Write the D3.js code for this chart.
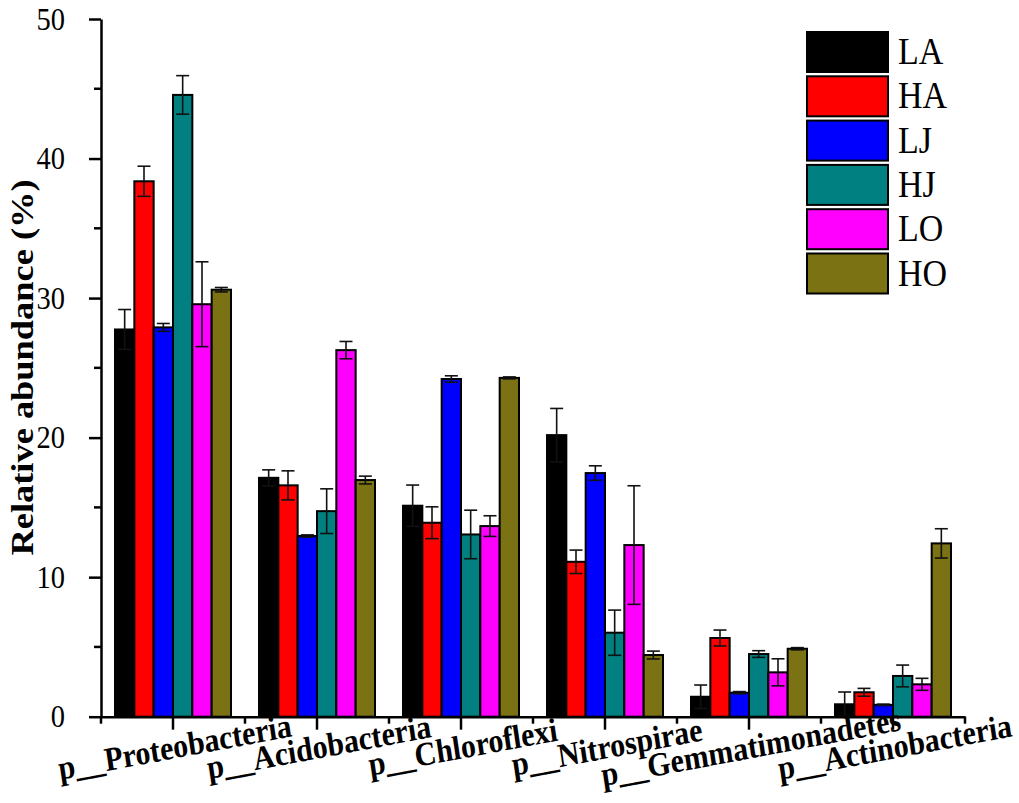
<!DOCTYPE html>
<html>
<head>
<meta charset="utf-8">
<script src="https://cdn.jsdelivr.net/npm/d3@7"></script>
<style>
  body { margin: 0; background: #fff; }
  svg text { font-family: 'Liberation Serif', 'Times New Roman', Times, serif !important; }
</style>
</head>
<body>
<div id="container"></div>
<script>
// Datos
const categories = ['p__Proteobacteria', 'p__Acidobacteria', 'p__Chloroflexi',
                    'p__Nitrospirae', 'p__Gemmatimonadetes', 'p__Actinobacteria'];
const groups = ['LA', 'HA', 'LJ', 'HJ', 'LO', 'HO'];
const colors = ['#000000', '#ff0000', '#0000ff', '#008080', '#ff00ff', '#7b7213'];

const LA = [27.75, 17.12, 15.12, 20.18, 1.43, 0.89];
const HA = [38.37, 16.58, 13.90, 11.10, 5.64, 1.75];
const LJ = [27.90, 12.95, 24.20, 17.46, 1.72, 0.85];
const HJ = [44.56, 14.73, 13.06, 6.02, 4.49, 2.92];
const LO = [29.56, 26.27, 13.66, 12.30, 3.18, 2.32];
const HO = [30.60, 16.96, 24.28, 4.42, 4.87, 12.42];

const errLA = [1.43, 0.57, 1.48, 1.91, 0.84, 0.88];
const errHA = [1.08, 1.04, 1.14, 0.84, 0.57, 0.28];
const errLJ = [0.28, 0.08, 0.23, 0.52, 0.08, 0.05];
const errHJ = [1.38, 1.60, 1.74, 1.62, 0.24, 0.78];
const errLO = [3.04, 0.62, 0.74, 4.25, 0.97, 0.43];
const errHO = [0.16, 0.28, 0.07, 0.28, 0.08, 1.05];

const yTicks = [0, 10, 20, 30, 40, 50];
const yMinor = [5, 15, 25, 35, 45];

const series = [LA, HA, LJ, HJ, LO, HO];
const errors = [errLA, errHA, errLJ, errHJ, errLO, errHO];

const WIDTH = 1019;
const HEIGHT = 803;
const FONT = "'Liberation Serif', 'Times New Roman', Times, serif";
// El original está algo estirado en vertical: lo imitamos en los textos.
const STRETCH = 1.12;

const svg = d3.select('#container')
              .append('svg')
                .attr('width', WIDTH)
                .attr('height', HEIGHT)
                .attr('font-family', FONT);

// Escalas
const x = d3.scaleBand()
            .domain(categories)
            .range([101, 965]);

const xInner = d3.scaleBand()
                 .domain(groups)
                 .range([14, x.bandwidth() - 14]);

const y = d3.scaleLinear()
            .domain([0, 50])
            .range([716.7, 19]);

// Tabla plana para las barras
const table = [];
categories.forEach((c, i) => {
  groups.forEach((g, j) => {
    table.push({ cat: c, group: g, value: series[j][i], err: errors[j][i], color: colors[j] });
  });
});

const bars = svg.append('g').attr('class', 'bars');

bars.selectAll('rect')
    .data(table)
    .enter()
  .append('rect')
    .attr('x', d => x(d.cat) + xInner(d.group))
    .attr('width', xInner.bandwidth())
    .attr('y', d => y(d.value))
    .attr('height', d => y(0) - y(d.value))
    .attr('fill', d => d.color)
    .attr('stroke', '#000')
    .attr('stroke-width', 2);

// Barras de error
const capW = 6.5;
const eb = svg.append('g')
              .attr('class', 'errorbars')
              .attr('stroke', '#111')
              .attr('stroke-width', 1.6);

const ebG = eb.selectAll('g')
              .data(table)
              .enter()
            .append('g')
              .attr('transform', d => `translate(${x(d.cat) + xInner(d.group) + xInner.bandwidth() / 2},0)`);

ebG.append('line')
   .attr('y1', d => y(d.value - d.err))
   .attr('y2', d => y(d.value + d.err));
ebG.append('line')
   .attr('x1', -capW).attr('x2', capW)
   .attr('y1', d => y(d.value + d.err))
   .attr('y2', d => y(d.value + d.err));
ebG.append('line')
   .attr('x1', -capW).attr('x2', capW)
   .attr('y1', d => y(d.value - d.err))
   .attr('y2', d => y(d.value - d.err));

// Eje Y
const yAxis = svg.append('g')
                 .attr('transform', 'translate(101,0)')
                 .call(d3.axisLeft(y)
                         .tickValues(yTicks)
                         .tickSize(12)
                         .tickPadding(24)
                         .tickSizeOuter(0));
yAxis.attr('font-family', FONT);
yAxis.select('.domain').attr('stroke-width', 2.5);
yAxis.selectAll('.tick line').attr('stroke-width', 2.5);
yAxis.selectAll('.tick text')
     .attr('font-size', 28.5)
     .attr('transform', `scale(1,${STRETCH})`)
     .attr('fill', '#000');

yAxis.selectAll('.minor')
     .data(yMinor)
     .enter()
   .append('line')
     .attr('class', 'minor')
     .attr('x1', -7).attr('x2', 0)
     .attr('y1', d => y(d)).attr('y2', d => y(d))
     .attr('stroke', '#000')
     .attr('stroke-width', 2.5);

// Eje X
const xAxis = svg.append('g')
                 .attr('transform', `translate(0,${y(0)})`)
                 .call(d3.axisBottom(x)
                         .tickSize(13)
                         .tickFormat('')
                         .tickSizeOuter(0));
xAxis.select('.domain').attr('stroke-width', 2.5);
xAxis.selectAll('.tick line').attr('stroke-width', 2.5);

// Ticks menores en los límites de cada categoría
const bounds = categories.map(c => x(c)).concat([x.range()[1]]);
xAxis.selectAll('.minor')
     .data(bounds)
     .enter()
   .append('line')
     .attr('class', 'minor')
     .attr('x1', d => d).attr('x2', d => d)
     .attr('y1', 0).attr('y2', 7)
     .attr('stroke', '#000')
     .attr('stroke-width', 2.5);

// Etiquetas de categorías inclinadas
svg.append('g')
   .selectAll('text')
   .data(categories)
   .enter()
 .append('text')
   .attr('transform', d => `translate(${x(d) + x.bandwidth() / 2 + 3.5},758) scale(1,${STRETCH}) rotate(-9.5)`)
   .attr('text-anchor', 'middle')
   .attr('font-size', 30)
   .attr('font-weight', 'bold')
   .attr('fill', '#000')
   .text(d => d);

// Título del eje Y
svg.append('text')
   .attr('transform', `translate(33,${(182 + 553) / 2}) scale(1,${STRETCH}) rotate(-90)`)
   .attr('text-anchor', 'middle')
   .attr('font-size', 32.5)
   .attr('font-weight', 'bold')
   .attr('fill', '#000')
   .text('Relative abundance (%)');

// Leyenda
const legend = svg.append('g')
                  .attr('class', 'legend')
                  .attr('transform', 'translate(807,32)');

const item = legend.selectAll('g')
                   .data(groups)
                   .enter()
                 .append('g')
                   .attr('transform', (d, i) => `translate(0,${i * 44.3})`);

item.append('rect')
    .attr('width', 81)
    .attr('height', 40)
    .attr('fill', (d, i) => colors[i])
    .attr('stroke', '#000')
    .attr('stroke-width', 2);

item.append('text')
    .attr('transform', `translate(91,32) scale(1,${STRETCH})`)
    .attr('font-size', 34)
    .attr('fill', '#000')
    .text(d => d);
</script>
</body>
</html>
